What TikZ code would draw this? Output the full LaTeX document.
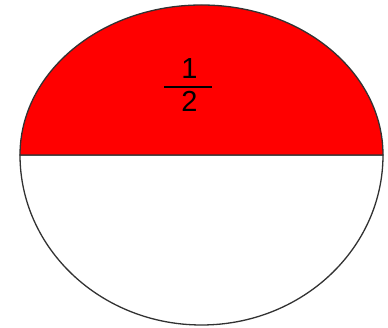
\documentclass[tikz,border=0pt]{standalone}
\usepackage{fontspec}
\setmainfont{Liberation Sans}
\definecolor{outl}{RGB}{50,50,50}
\begin{document}
\begin{tikzpicture}[x=1pt,y=1pt,
  digit/.style={inner sep=0pt,font=\fontsize{29}{29}\selectfont},
  rim/.style={draw=outl,line width=1.3pt}]
\useasboundingbox (0,0) rectangle (388,328);
\coordinate (c) at (201.5,173);
% bottom half
\filldraw[rim,fill=white] (20,173) arc[start angle=180,end angle=360,x radius=181.5,y radius=170] -- cycle;
% top half
\filldraw[rim,fill=red] (20,173) arc[start angle=180,end angle=0,x radius=181.5,y radius=150] -- cycle;
\node[digit] (num) at (189.5,259) {1};
\node[digit] (den) at (189.5,227) {2};
\coordinate (bl) at (164,241);
\coordinate (br) at (212,241);
\draw[line width=1.3pt,black] (bl) -- (br);
\end{tikzpicture}
\end{document}
